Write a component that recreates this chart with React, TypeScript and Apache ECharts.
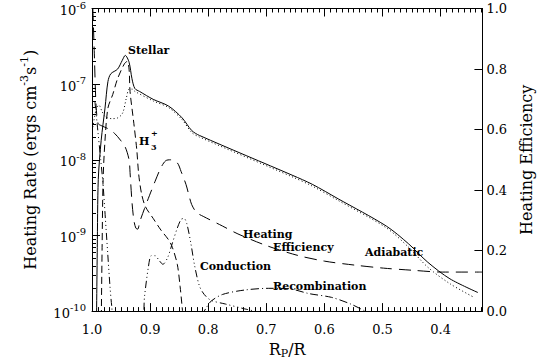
import React, { useEffect, useRef } from 'react';
import * as echarts from 'echarts';

const FONT = 'DejaVu Serif';

// Stellar (total) heating rate, ergs cm^-3 s^-1, against R_P/R
const stellarX = [0.9925, 0.9909, 0.9892, 0.9842, 0.9776, 0.9726, 0.9677, 0.956, 0.9478, 0.9428, 0.9362, 0.9312, 0.9262, 0.918, 0.8947, 0.8682, 0.845, 0.8284, 0.8151, 0.6542, 0.621, 0.5763, 0.4934, 0.4552, 0.422, 0.3839, 0.3358];
const stellarY = [5e-11, 6.9e-10, 5.5e-9, 1.81e-8, 4.83e-8, 1.08e-7, 1.37e-7, 1.58e-7, 2.07e-7, 2.4e-7, 1.95e-7, 1.18e-7, 8.75e-8, 8.0e-8, 6.3e-8, 5.13e-8, 3.59e-8, 2.44e-8, 2.1e-8, 6.2e-9, 4.75e-9, 3.05e-9, 1.33e-9, 7.76e-10, 4.42e-10, 2.67e-10, 1.76e-10];

// Adiabatic cooling
const adiabaticX = [0.9985, 0.993, 0.988, 0.983, 0.977, 0.966, 0.955, 0.947, 0.941, 0.936, 0.931, 0.926, 0.8947, 0.8682, 0.845, 0.8284, 0.8151, 0.6542, 0.621, 0.5763, 0.4934, 0.4552, 0.422, 0.3839, 0.3425];
const adiabaticY = [2.7e-8, 4.6e-8, 5.3e-8, 4.4e-8, 3.7e-8, 3.5e-8, 3.6e-8, 4.2e-8, 6.5e-8, 8.6e-8, 8.6e-8, 8.0e-8, 6.0e-8, 4.9e-8, 3.4e-8, 2.3e-8, 2.0e-8, 5.9e-9, 4.5e-9, 2.9e-9, 1.26e-9, 7.0e-10, 3.8e-10, 2.3e-10, 1.52e-10];

// H3+ cooling
const h3X = [0.9842, 0.9826, 0.9809, 0.9776, 0.9726, 0.9643, 0.956, 0.9444, 0.9395, 0.9362, 0.9345, 0.9279, 0.9229, 0.9196, 0.9146, 0.908, 0.8947, 0.8814, 0.8682, 0.8615, 0.8532, 0.8483, 0.845, 0.8416];
const h3Y = [6e-11, 6.9e-10, 5.5e-9, 1.81e-8, 4.83e-8, 7.3e-8, 1.18e-7, 1.85e-7, 2.0e-7, 1.58e-7, 8.0e-8, 3.0e-8, 1.35e-8, 6.4e-9, 3.53e-9, 2.4e-9, 1.68e-9, 1.18e-9, 8.75e-10, 6.9e-10, 4.16e-10, 2.1e-10, 1.16e-10, 6e-11];

// Conduction
const condX = [0.995, 0.99, 0.985, 0.981, 0.977, 0.973, 0.969, 0.966, 0.962, 0.914, 0.9096, 0.903, 0.898, 0.8914, 0.8847, 0.878, 0.8698, 0.8615, 0.8532, 0.8466, 0.8416, 0.8367, 0.83, 0.8234, 0.8151, 0.8068, 0.7952, 0.7703, 0.7371, 0.7123];
const condY = [5.9e-8, 2.44e-8, 1.0e-8, 4.75e-9, 1.68e-9, 5.9e-10, 2.1e-10, 1.16e-10, 7e-11, 7e-11, 1.56e-10, 3.8e-10, 5.4e-10, 5.4e-10, 4.7e-10, 4.16e-10, 5.1e-10, 8.0e-10, 1.25e-9, 1.63e-9, 1.68e-9, 1.42e-9, 8.0e-10, 4.0e-10, 2.15e-10, 1.66e-10, 1.39e-10, 1.24e-10, 1.07e-10, 9.7e-11];

// Recombination cooling
const recX = [0.8118, 0.8035, 0.7952, 0.7753, 0.7371, 0.6957, 0.6625, 0.626, 0.5879, 0.5547, 0.5299, 0.5133];
const recY = [8.6e-11, 1.1e-10, 1.35e-10, 1.66e-10, 1.9e-10, 2.0e-10, 1.98e-10, 1.7e-10, 1.52e-10, 1.24e-10, 1.0e-10, 8.6e-11];

// Heating efficiency (right axis)
const effX = [0.9985, 0.996, 0.993, 0.9895, 0.9842, 0.9726, 0.961, 0.9511, 0.9428, 0.9362, 0.9345, 0.9312, 0.9279, 0.9245, 0.9212, 0.918, 0.9096, 0.9013, 0.8914, 0.8814, 0.8731, 0.8648, 0.8532, 0.8466, 0.8383, 0.8333, 0.8284, 0.8201, 0.8085, 0.7753, 0.7488, 0.699, 0.6459, 0.5995, 0.5481, 0.4983, 0.4486, 0.3972, 0.3275];
const effY = [1.0, 0.85, 0.68, 0.62, 0.613, 0.603, 0.587, 0.565, 0.542, 0.5, 0.458, 0.361, 0.3, 0.274, 0.271, 0.294, 0.339, 0.381, 0.429, 0.474, 0.497, 0.5, 0.49, 0.461, 0.419, 0.384, 0.352, 0.326, 0.313, 0.281, 0.255, 0.216, 0.184, 0.165, 0.152, 0.142, 0.135, 0.129, 0.129];

// Axis ranges
const X_MIN = 0.328;
const X_MAX = 1.0;
const Y_MIN = 1e-10;
const Y_MAX = 1e-6;

// Minor tick positions: every 0.01 in R_P/R, 2..9 within each decade of the rate
const xMinorTicks: number[] = [];
for (let i = 33; i < 100; i++) if (i % 10 !== 0) xMinorTicks.push(i / 100);
const yMinorTicks: number[] = [];
for (let e = -10; e < -6; e++) for (let k = 2; k <= 9; k++) yMinorTicks.push(k * Math.pow(10, e));

const pairs = (xs: number[], ys: number[]) => xs.map((x, i) => [x, ys[i]]);

const black = '#000';

function lineSeries(name: string, xs: number[], ys: number[], type: any, yAxisIndex = 0) {
  return {
    name,
    type: 'line',
    xAxisIndex: 0,
    yAxisIndex,
    data: pairs(xs, ys),
    showSymbol: false,
    symbol: 'none',
    smooth: 0.3,
    clip: true,
    silent: true,
    lineStyle: { color: black, width: 1, type },
  };
}

const annot = (text: string, x: number, y: number, size = 11) => ({
  type: 'text',
  x,
  y,
  silent: true,
  style: {
    text,
    fill: black,
    fontFamily: FONT,
    fontWeight: 'bold',
    fontSize: size,
    align: 'left',
    verticalAlign: 'middle',
  },
});

export default function App() {
  const ref = useRef<HTMLDivElement>(null);

  useEffect(() => {
    const chart = echarts.init(ref.current!, null, { renderer: 'svg' });

    const tickMarks = {
      type: 'custom',
      xAxisIndex: 0,
      yAxisIndex: 0,
      silent: true,
      clip: false,
      z: 5,
      data: [
        ...xMinorTicks.map((v) => [v, 1e-8, 0]),
        ...yMinorTicks.map((w) => [X_MAX, w, 1]),
      ],
      renderItem: (_params: any, api: any) => {
        const kind = api.value(2);
        const st = { stroke: black, lineWidth: 1 };
        if (kind === 0) {
          const v = api.value(0);
          const bottom = api.coord([v, Y_MIN]);
          const top = api.coord([v, Y_MAX]);
          const x = Math.round(bottom[0]) + 0.5;
          return {
            type: 'group',
            children: [
              { type: 'line', shape: { x1: x, y1: bottom[1], x2: x, y2: bottom[1] - 4 }, style: st },
              { type: 'line', shape: { x1: x, y1: top[1], x2: x, y2: top[1] + 4 }, style: st },
            ],
          };
        }
        const p = api.coord([X_MAX, api.value(1)]);
        const y = Math.round(p[1]) + 0.5;
        return { type: 'line', shape: { x1: p[0], y1: y, x2: p[0] + 4, y2: y }, style: st };
      },
    };

    const axisFont = { fontFamily: FONT, color: black };

    chart.setOption({
      animation: false,
      backgroundColor: '#fff',
      grid: { left: 92, right: 45, top: 5, bottom: 49, containLabel: false },
      xAxis: [
        {
          type: 'value',
          position: 'bottom',
          inverse: true,
          min: X_MIN,
          max: X_MAX,
          splitNumber: 7,
          axisLine: { show: true, onZero: false, lineStyle: { color: black, width: 1 } },
          axisTick: { show: true, inside: true, length: 8, lineStyle: { color: black } },
          axisLabel: {
            ...axisFont,
            fontSize: 13,
            margin: 12,
            formatter: (v: number) => (v < 0.35 ? '' : v.toFixed(1)),
          },
          splitLine: { show: false },
          name: '{b|R}{p|P}{b|/R}',
          nameLocation: 'middle',
          nameGap: 24,
          nameTextStyle: {
            rich: {
              b: { ...axisFont, fontSize: 16, verticalAlign: 'top' },
              p: { ...axisFont, fontSize: 11, verticalAlign: 'top', padding: [7, 0, 0, 0] },
            },
          },
        },
        {
          type: 'value',
          position: 'top',
          inverse: true,
          min: X_MIN,
          max: X_MAX,
          splitNumber: 7,
          axisLine: { show: true, onZero: false, lineStyle: { color: black, width: 1 } },
          axisTick: { show: true, inside: true, length: 8, lineStyle: { color: black } },
          axisLabel: { show: false },
          splitLine: { show: false },
        },
      ],
      yAxis: [
        {
          type: 'log',
          logBase: 10,
          position: 'left',
          min: Y_MIN,
          max: Y_MAX,
          axisLine: { show: true, onZero: false, lineStyle: { color: black, width: 1 } },
          axisTick: { show: true, inside: true, length: 8, lineStyle: { color: black } },
          axisLabel: {
            margin: 6,
            formatter: (v: number) => `{b|10}{s|${Math.round(Math.log10(v))}}`,
            rich: {
              b: { ...axisFont, fontSize: 13, verticalAlign: 'bottom' },
              s: { ...axisFont, fontSize: 10, verticalAlign: 'bottom', padding: [0, 0, 7, 0] },
            },
          },
          splitLine: { show: false },
          name: '{b|Heating Rate (ergs cm}{s|-3}{b|s}{s|-1}{b|)}',
          nameLocation: 'middle',
          nameRotate: 90,
          nameGap: 54,
          nameTextStyle: {
            rich: {
              b: { ...axisFont, fontSize: 16, verticalAlign: 'bottom' },
              s: { ...axisFont, fontSize: 11, verticalAlign: 'bottom', padding: [0, 0, 8, 0] },
            },
          },
        },
        {
          type: 'value',
          position: 'right',
          min: 0,
          max: 1,
          interval: 0.2,
          axisLine: { show: true, onZero: false, lineStyle: { color: black, width: 1 } },
          axisTick: { show: true, inside: true, length: 8, lineStyle: { color: black } },
          axisLabel: { ...axisFont, fontSize: 13, margin: 4, formatter: (v: number) => v.toFixed(1) },
          splitLine: { show: false },
          name: 'Heating Efficiency',
          nameLocation: 'middle',
          nameRotate: 90,
          nameGap: 28,
          nameTextStyle: { ...axisFont, fontSize: 16 },
        },
      ],
      series: [
        lineSeries('Stellar', stellarX, stellarY, 'solid'),
        lineSeries('Adiabatic', adiabaticX, adiabaticY, [1, 2.5]),
        lineSeries('H3+', h3X, h3Y, [7, 4]),
        lineSeries('Conduction', condX, condY, [7, 3, 1, 3, 1, 3, 1, 3]),
        lineSeries('Recombination', recX, recY, [8, 3, 1, 3]),
        lineSeries('Heating Efficiency', effX, effY, [12, 7], 1),
        tickMarks,
      ],
      graphic: [
        annot('Stellar', 128, 50),
        annot('H', 139, 141),
        annot('3', 151, 147, 8),
        annot('+', 151, 133, 8),
        annot('Heating', 243, 234),
        annot('Efficiency', 273, 247),
        annot('Adiabatic', 365, 252),
        annot('Conduction', 200, 266),
        annot('Recombination', 273, 286),
      ],
    });

    return () => chart.dispose();
  }, []);

  return (
    <div
      ref={ref}
      style={{ position: 'absolute', left: 0, top: 0, width: 542, height: 364, background: '#fff' }}
    />
  );
}
